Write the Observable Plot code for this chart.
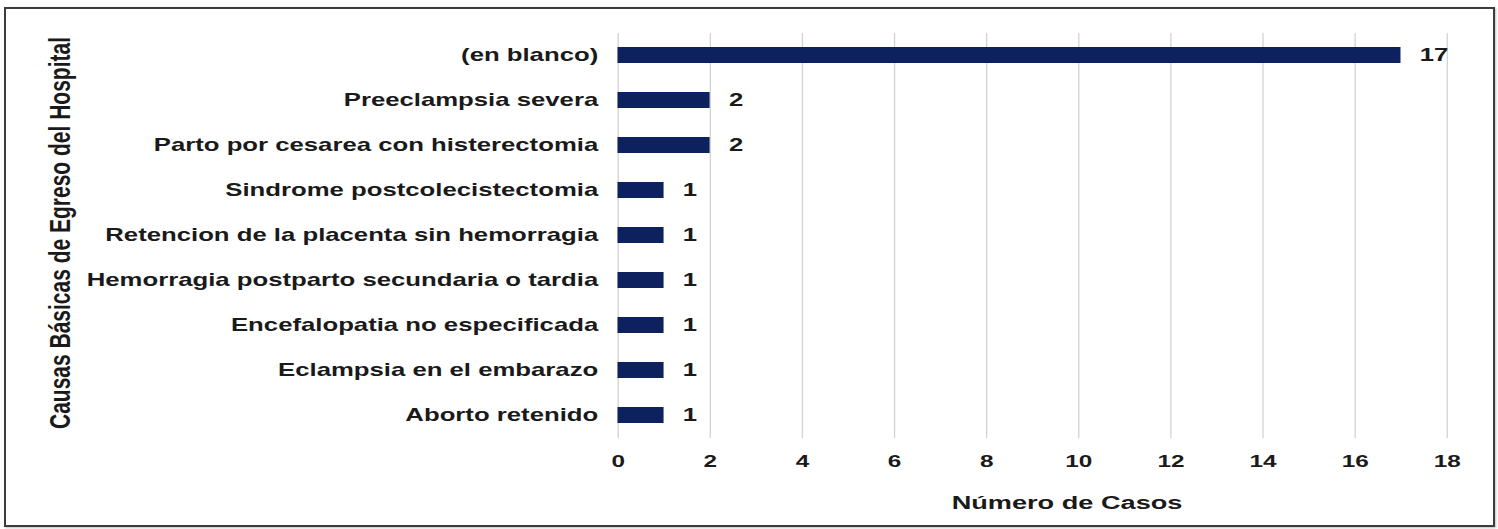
<!DOCTYPE html>
<html>
<head>
<meta charset="utf-8">
<script src="https://cdn.jsdelivr.net/npm/d3@7"></script>
<script src="https://cdn.jsdelivr.net/npm/@observablehq/plot@0.6"></script>
<style>
  html, body { margin: 0; padding: 0; background: #fff; }
  #wrap { position: relative; width: 1498px; height: 529px; overflow: hidden; background: #fff; }
  #border { position: absolute; left: 4px; top: 7px; width: 1491px; height: 520px; box-sizing: border-box; border: 2px solid #3c3c3c; box-shadow: 1px 1px 2px rgba(0,0,0,0.25); }
  #wrap svg { position: absolute; left: 0; top: 0; }
</style>
</head>
<body>
<div id="wrap"><div id="border"></div></div>
<script>
const causas = [
  "(en blanco)",
  "Preeclampsia severa",
  "Parto por cesarea con histerectomia",
  "Sindrome postcolecistectomia",
  "Retencion de la placenta sin hemorragia",
  "Hemorragia postparto secundaria o tardia",
  "Encefalopatia no especificada",
  "Eclampsia en el embarazo",
  "Aborto retenido"
];
const casos = [17, 2, 2, 1, 1, 1, 1, 1, 1];
const xTicks = [0, 2, 4, 6, 8, 10, 12, 14, 16, 18];
const xTitle = "Número de Casos";
const yTitle = "Causas Básicas de Egreso del Hospital";

const data = causas.map((c, i) => ({causa: c, casos: casos[i]}));

const W = 1048, H = 529;
const chart = Plot.plot({
  width: W,
  height: H,
  marginLeft: 432,
  marginRight: 36,
  marginTop: 33,
  marginBottom: 91,
  style: {fontFamily: "'Liberation Sans', Arial, sans-serif", fontSize: "18px", fontWeight: "bold", color: "#1a1a1a", background: "transparent"},
  x: {domain: [0, 18], label: null},
  y: {domain: causas, paddingInner: 0.64, paddingOuter: 0.32, label: null},
  marks: [
    Plot.gridX(xTicks, {stroke: "#d2d2d2", strokeOpacity: 1, strokeWidth: 0.9}),
    Plot.axisX(xTicks, {tickSize: 0, tickPadding: 16, fontSize: 17, fontWeight: "bold", label: null, tickFormat: d => String(d)}),
    Plot.axisY({tickSize: 0, tickPadding: 14, fontSize: 18, fontWeight: "bold", label: null}),
    Plot.barX(data, {x: "casos", y: "causa", fill: "#0c215e"}),
    Plot.text(data, {x: "casos", y: "causa", text: d => String(d.casos), textAnchor: "start", dx: 13, fontSize: 18, fontWeight: "bold", fill: "#1a1a1a"}),
    Plot.text([xTitle], {frameAnchor: "bottom", text: d => d, dy: 64, dx: 24, textAnchor: "middle", lineAnchor: "middle", fontSize: 19, fontWeight: "bold", fill: "#1a1a1a"}),
    Plot.text([yTitle], {frameAnchor: "left", text: d => d, rotate: -90, dx: -390, dy: -3, textAnchor: "middle", lineAnchor: "middle", fontSize: 21, fontWeight: "bold", fill: "#1a1a1a"})
  ]
});
chart.setAttribute("width", 1498);
chart.setAttribute("height", 529);
chart.setAttribute("preserveAspectRatio", "none");
chart.style.width = "1498px";
chart.style.height = "529px";
chart.style.maxWidth = "none";
document.getElementById("wrap").appendChild(chart);
</script>
</body>
</html>
